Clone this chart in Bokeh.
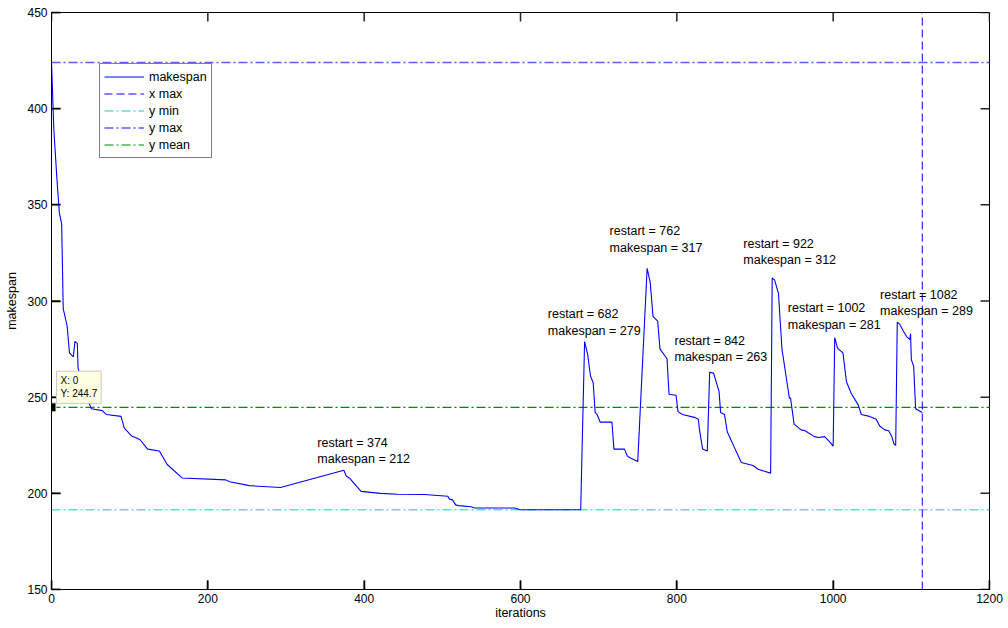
from bokeh.plotting import figure
from bokeh.models import (Range1d, Legend, LegendItem, Label, PolyAnnotation,
                          FixedTicker, ColumnDataSource)
from bokeh.core.properties import value
from bokeh.embed import file_html
from bokeh.resources import INLINE

# ---------------- data ----------------
iterations = [0, 3, 7, 10, 13, 15, 20, 23, 28, 30, 33, 34, 49, 51, 65, 70, 89, 93,
              102, 113, 123, 138, 148, 167, 223, 228, 253, 293, 374, 377, 381, 396,
              421, 443, 477, 507, 509, 513, 517, 521, 537, 541, 592, 600, 677,
              682, 686, 689.5, 693, 695.5, 698, 702, 717, 719.5, 733, 736.5, 740, 750,
              762, 766, 769.5, 775.5, 778.5, 787.5, 790, 799, 801.5, 807, 822.5, 827.5,
              829, 833, 839,
              842, 847, 854, 856, 861, 864.5, 874, 882.5, 897.5, 904, 920,
              922, 925, 930, 934.5, 941, 944, 945.5, 950, 959, 964, 976, 981, 989, 995,
              1000,
              1002, 1005.5, 1012.5, 1017, 1023, 1032, 1036, 1046.5, 1055, 1059.5, 1066,
              1071, 1075, 1078, 1080,
              1082, 1085, 1089.5, 1094, 1098, 1099, 1100, 1103, 1105.5, 1114]
makespan = [424, 389, 363, 346, 340, 296, 287, 273, 271, 279, 278, 265, 246, 244, 243,
            241, 240, 234, 230, 228, 223, 222, 215, 208, 207, 206, 204, 203, 212, 209,
            208, 201, 200, 199.5, 199.4, 198.5, 197, 196.6, 194, 193.6, 193, 192.4,
            192.4, 191.5, 191.5,
            279, 272, 261, 257.5, 242, 241, 237, 237, 223, 223, 219.5, 218.5, 216.5,
            317, 309.5, 292, 289.5, 275, 270, 251.5, 251, 242.5, 241, 239.5, 238.5,
            233, 223, 222,
            263, 262.5, 253, 242, 241, 232, 223.5, 216, 214.5, 212.5, 210.5,
            312, 311, 304, 275, 257.5, 249.5, 249.5, 236, 233, 232.5, 229.5, 229,
            229.5, 227, 224.5,
            281, 275.5, 273, 258, 252, 246, 241, 240, 238.5, 235, 233, 232.5, 229.5,
            225.5, 225,
            289, 288, 284.5, 281.5, 280, 283, 269.5, 266, 244, 242]

restart_iter = [374, 682, 762, 842, 922, 1002, 1082]
restart_makespan = [212, 279, 317, 263, 312, 281, 289]
label_x = [340, 635, 714, 797, 885, 942, 1060]
label_y = [222, 289, 332, 275, 325.5, 292, 299]

x_max = 1114
y_min = 191.5
y_max = 424
y_mean = 244.7
datatip_x = [0]
datatip_y = [244.7]

x_limits = [0, 1200]
y_limits = [150, 450]
x_ticks = [0, 200, 400, 600, 800, 1000, 1200]
y_ticks = [150, 200, 250, 300, 350, 400, 450]

FONT = "Liberation Sans"

# ---------------- figure ----------------
p = figure(width=1008, height=628, output_backend="svg", toolbar_location=None,
           x_range=Range1d(*x_limits), y_range=Range1d(*y_limits),
           min_border_left=51, min_border_right=19, min_border_top=12,
           min_border_bottom=39)
p.background_fill_color = "white"
p.border_fill_color = "white"
p.outline_line_color = "black"
p.outline_line_width = 1
p.xgrid.visible = False
p.ygrid.visible = False


def style_axis(ax, ticks):
    ax.ticker = FixedTicker(ticks=ticks)
    ax.axis_line_color = "black"
    ax.axis_line_width = 1
    ax.major_tick_in = 9
    ax.major_tick_out = 0
    ax.major_tick_line_color = "black"
    ax.major_tick_line_width = 1.5
    ax.minor_tick_in = 0
    ax.minor_tick_out = 0
    ax.major_label_text_font = FONT
    ax.major_label_text_color = "black"
    ax.major_label_text_font_size = "12px"


style_axis(p.xaxis[0], x_ticks)
style_axis(p.yaxis[0], y_ticks)
p.xaxis[0].major_label_standoff = 4
p.yaxis[0].major_label_standoff = 4
p.xaxis[0].axis_label = "iterations"
p.yaxis[0].axis_label = "makespan"
for ax in (p.xaxis[0], p.yaxis[0]):
    ax.axis_label_text_font = FONT
    ax.axis_label_text_font_size = "12.5px"
    ax.axis_label_text_font_style = "normal"
    ax.axis_label_text_color = "black"
p.xaxis[0].axis_label_standoff = 0
p.yaxis[0].axis_label_standoff = 5

# inward ticks on all four edges of the box, drawn as glyphs (length ~9 px)
tick_len_x = 11.5   # 9 px along x
tick_len_y = 4.7    # 9 px along y
n_x = len(x_ticks)
n_y = len(y_ticks)
x0s = x_ticks + x_ticks
y0s = [y_limits[1]] * n_x + [y_limits[0]] * n_x
y1s = [y_limits[1] - tick_len_y] * n_x + [y_limits[0] + tick_len_y] * n_x
p.segment(x0=x0s, y0=y0s, x1=x0s, y1=y1s, line_color="#222222", line_width=1.5)
ys = y_ticks + y_ticks
xa = [x_limits[1]] * n_y + [x_limits[0]] * n_y
xb = [x_limits[1] - tick_len_x] * n_y + [x_limits[0] + tick_len_x] * n_y
p.segment(x0=xa, y0=ys, x1=xb, y1=ys, line_color="#222222", line_width=1.5)

# reference lines
r_ymean = p.line(x=x_limits, y=[y_mean, y_mean], line_color="#008a00",
                 line_width=1.1, line_dash="9 3 2 3")
r_ymin = p.line(x=x_limits, y=[y_min, y_min], line_color="#66d9d9",
                line_width=1.6, line_dash="9 3 2 3")
r_ymax = p.line(x=x_limits, y=[y_max, y_max], line_color="#5c5cff",
                line_width=1.6, line_dash="9 3 2 3")
r_xmax = p.line(x=[x_max, x_max], y=y_limits, line_color="#0000ff",
                line_width=1, line_dash="8 4")

# main curve
r_main = p.line(x=iterations, y=makespan, line_color="#0000ff", line_width=1.1)

# annotations
ann_text = [f"restart = {r}\nmakespan = {m}" for r, m in zip(restart_iter, restart_makespan)]
src = ColumnDataSource(dict(x=label_x, y=label_y, t=ann_text))
p.text(x="x", y="y", text="t", source=src, text_font=value(FONT),
       text_font_size="12.5px", text_color="black", text_align="left",
       text_baseline="middle", text_line_height=1.2)

# data tip marker (a small black square on the left axis)
p.scatter(x=datatip_x, y=datatip_y, marker="square", size=9,
          fill_color="black", line_color="#f0f0c8", line_width=1)
tip = Label(x=datatip_x[0], y=datatip_y[0], x_offset=5, y_offset=4,
            text=f"X: {datatip_x[0]}\nY: {datatip_y[0]}",
            text_font=FONT, text_font_size="10px", text_color="black",
            background_fill_color="#ffffe1", border_line_color="#c8c8c8",
            border_line_width=1, padding=4)
p.add_layout(tip)

# legend
legend = Legend(items=[
    LegendItem(label="makespan", renderers=[r_main]),
    LegendItem(label="x max", renderers=[r_xmax]),
    LegendItem(label="y min", renderers=[r_ymin]),
    LegendItem(label="y max", renderers=[r_ymax]),
    LegendItem(label="y mean", renderers=[r_ymean]),
], location=(48, 431))
legend.label_text_font = FONT
legend.label_text_font_size = "12.5px"
legend.label_text_color = "black"
legend.border_line_color = "black"
legend.border_line_width = 1
legend.background_fill_color = "white"
legend.background_fill_alpha = 1
legend.padding = 4
legend.spacing = 0
legend.margin = 0
legend.label_height = 17
legend.glyph_height = 17
legend.glyph_width = 40
legend.label_standoff = 5
p.add_layout(legend)

open("out.html", "w").write(file_html(p, INLINE))
